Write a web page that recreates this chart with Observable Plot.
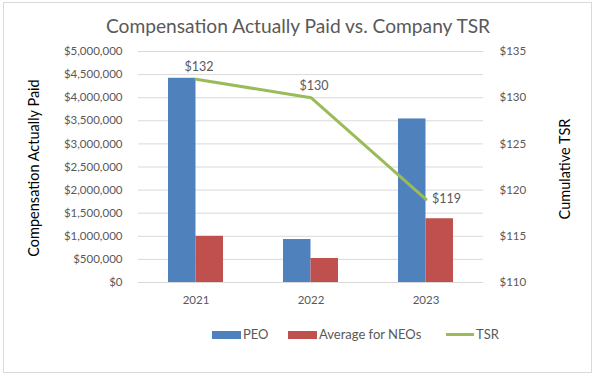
<!DOCTYPE html>
<html>
<head>
<meta charset="utf-8">
<script src="https://cdn.jsdelivr.net/npm/d3@7"></script>
<script src="https://cdn.jsdelivr.net/npm/@observablehq/plot@0.6"></script>
<style>
  html, body { margin: 0; padding: 0; background: #fff; }
  #wrap { position: relative; width: 598px; height: 378px; font-family: Lato, "Open Sans", sans-serif; overflow: hidden; }
  #frame { position: absolute; left: 3px; top: 2px; width: 589px; height: 371px; border: 1px solid #d9d9d9; box-sizing: border-box; }
  #title { position: absolute; left: 0; width: 596px; top: 14px; text-align: center; font-size: 19.2px; color: #595959; }
  .ytitle { position: absolute; font-size: 14.5px; color: #000; white-space: nowrap; transform: translate(-50%, -50%) rotate(-90deg); }
  .li { position: absolute; top: 327px; display: flex; align-items: center; gap: 2px; font-size: 13px; color: #595959; line-height: 15px; }
  .sw { width: 29px; height: 8px; }
  .ln { width: 28px; height: 3px; margin-right: 0; }
  #plot { position: absolute; left: 0; top: 0; }
</style>
</head>
<body>
<div id="wrap">
  <div id="frame"></div>
  <div id="plot"></div>
  <div id="title">Compensation Actually Paid vs. Company TSR</div>
  <div class="ytitle" style="left:33px; top:168px;">Compensation Actually Paid</div>
  <div class="ytitle" style="left:564px; top:169px;">Cumulative TSR</div>
  <div id="legend"></div>
</div>
<script>
const years = ["2021", "2022", "2023"];
const peoValues = [4420000, 930000, 3540000];
const neoValues = [1000000, 520000, 1380000];
const tsrValues = [132, 130, 119];
const leftTicks = [0, 500000, 1000000, 1500000, 2000000, 2500000, 3000000, 3500000, 4000000, 4500000, 5000000];
const rightTicks = [110, 115, 120, 125, 130, 135];
const seriesNames = ["PEO", "Average for NEOs", "TSR"];
const colors = ["#4F81BD", "#C0504D", "#9BBB59"];

const tsrMin = 110, tsrMax = 135, leftMax = 5000000;
const tsrToLeft = v => (v - tsrMin) / (tsrMax - tsrMin) * leftMax;
const leftToTsr = d => tsrMin + d / leftMax * (tsrMax - tsrMin);

const peo = years.map((y, i) => ({year: y, value: peoValues[i]}));
const neo = years.map((y, i) => ({year: y, value: neoValues[i]}));
const tsr = years.map((y, i) => ({year: y, value: tsrToLeft(tsrValues[i]), label: "$" + tsrValues[i]}));

const money = d3.format(",");
const textColor = "#595959";

const chart = Plot.plot({
  width: 598,
  height: 378,
  marginLeft: 138,
  marginRight: 115,
  marginTop: 51,
  marginBottom: 96,
  style: {fontFamily: "Lato, 'Open Sans', sans-serif", fontSize: "11.5px", color: textColor, background: "transparent"},
  x: {type: "band", domain: years, padding: 0},
  y: {domain: [0, leftMax]},
  marks: [
    Plot.gridY(leftTicks, {stroke: "#d9d9d9", strokeOpacity: 1}),
    Plot.barY(peo, {x: "year", y: "value", fill: colors[0], insetLeft: 30, insetRight: 57.5}),
    Plot.barY(neo, {x: "year", y: "value", fill: colors[1], insetLeft: 57.5, insetRight: 30}),
    Plot.line(tsr, {x: "year", y: "value", stroke: colors[2], strokeWidth: 3}),
    Plot.text(tsr.slice(0, 2), {x: "year", y: "value", text: "label", dy: -12, dx: 3, fill: textColor, fontSize: 12.5}),
    Plot.text(tsr.slice(2), {x: "year", y: "value", text: "label", dx: 6, textAnchor: "start", fill: textColor, fontSize: 12.5}),
    Plot.axisY(leftTicks, {anchor: "left", tickSize: 0, tickPadding: 16, tickFormat: d => "$" + money(d), label: null, fill: textColor}),
    Plot.axisY(rightTicks.map(tsrToLeft), {anchor: "right", tickSize: 0, tickPadding: 16, tickFormat: d => "$" + Math.round(leftToTsr(d)), label: null, fill: textColor}),
    Plot.axisX({tickSize: 0, tickPadding: 13, label: null, fill: textColor})
  ]
});
document.getElementById("plot").appendChild(chart);

const legend = document.getElementById("legend");
const legendLeft = [212, 288, 446];
seriesNames.forEach((name, i) => {
  const item = document.createElement("div");
  item.className = "li";
  item.style.left = legendLeft[i] + "px";
  const sw = document.createElement("div");
  sw.className = i === 2 ? "ln" : "sw";
  sw.style.background = colors[i];
  const t = document.createElement("span");
  t.textContent = name;
  item.appendChild(sw);
  item.appendChild(t);
  legend.appendChild(item);
});
</script>
</body>
</html>
